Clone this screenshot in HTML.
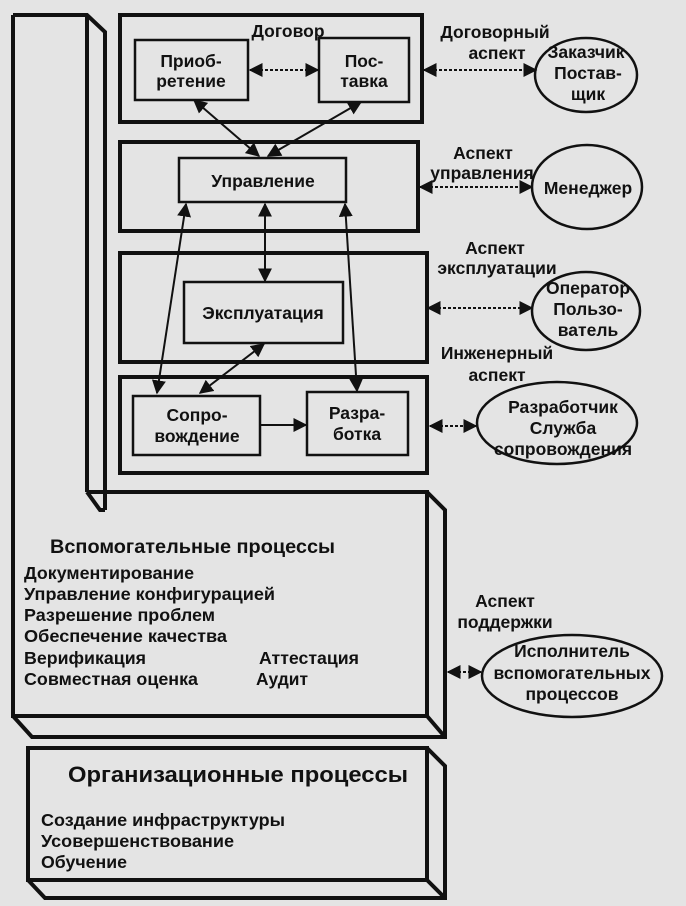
<!DOCTYPE html>
<html><head><meta charset="utf-8"><style>
html,body{margin:0;padding:0;background:#e4e4e4;}
svg{display:block;}
text{font-family:"Liberation Sans","DejaVu Sans",sans-serif;font-weight:bold;fill:#111;}
</style></head><body>
<svg width="686" height="906" viewBox="0 0 686 906" xmlns="http://www.w3.org/2000/svg">
<defs>
<marker id="a" viewBox="0 0 10 10" refX="9" refY="5" markerWidth="7" markerHeight="7" orient="auto-start-reverse"><path d="M0,0L10,5L0,10z" fill="#111"/></marker>
</defs>
<rect width="686" height="906" fill="#e4e4e4"/>
<g fill="none" stroke="#111" stroke-width="4">
<path d="M13,15 L87,15 L105,32 L105,510"/>
<path d="M87,15 L87,492"/>
<path d="M13,15 L13,716 L427,716 L427,492 L87,492"/>
<path d="M87,492 L100,510 L105,510"/>
<path d="M427,492 L445,510 L445,737 L32,737 L13,716"/>
<path d="M427,716 L445,737"/>
<rect x="28" y="748" width="399" height="132"/>
<path d="M427,748 L445,766 L445,898 L45,898 L28,880 M427,880 L445,898"/>
<rect x="120" y="15" width="302" height="107"/>
<rect x="120" y="142" width="298" height="89"/>
<rect x="120" y="253" width="307" height="109"/>
<rect x="120" y="377" width="307" height="96"/>
</g>
<g fill="none" stroke="#111" stroke-width="2.5">
<rect x="135" y="40" width="113" height="60"/>
<rect x="319" y="38" width="90" height="64"/>
<rect x="179" y="158" width="167" height="44"/>
<rect x="184" y="282" width="159" height="61"/>
<rect x="133" y="396" width="127" height="59"/>
<rect x="307" y="392" width="101" height="63"/>
<ellipse cx="586" cy="75" rx="51" ry="37"/>
<ellipse cx="587" cy="187" rx="55" ry="42"/>
<ellipse cx="586" cy="311" rx="54" ry="39"/>
<ellipse cx="557" cy="423" rx="80" ry="41"/>
<ellipse cx="572" cy="676" rx="90" ry="41"/>
</g>
<g stroke="#111" stroke-width="2" fill="none" marker-start="url(#a)" marker-end="url(#a)">
<line x1="194" y1="100" x2="259" y2="156"/>
<line x1="361" y1="102" x2="268" y2="156"/>
<line x1="186" y1="204" x2="157" y2="393"/>
<line x1="265" y1="204" x2="265" y2="281"/>
<line x1="345" y1="204" x2="357" y2="391"/>
<line x1="264" y1="344" x2="200" y2="393"/>
</g>
<line x1="260" y1="425" x2="306" y2="425" stroke="#111" stroke-width="2" marker-end="url(#a)"/>
<g stroke="#111" stroke-width="2" stroke-dasharray="3,2" fill="none" marker-start="url(#a)" marker-end="url(#a)">
<line x1="250" y1="70" x2="318" y2="70"/>
<line x1="424" y1="70" x2="536" y2="70"/>
<line x1="420" y1="187" x2="532" y2="187"/>
<line x1="428" y1="308" x2="532" y2="308"/>
<line x1="430" y1="426" x2="476" y2="426"/>
<line x1="448" y1="672" x2="481" y2="672"/>
</g>
<g font-size="17.5" text-anchor="middle">
<text x="288" y="37">Договор</text>
<text x="191" y="67">Приоб-</text><text x="191" y="87">ретение</text>
<text x="364" y="67">Пос-</text><text x="364" y="87">тавка</text>
<text x="263" y="187">Управление</text>
<text x="263" y="319">Эксплуатация</text>
<text x="197" y="421">Сопро-</text><text x="197" y="442">вождение</text>
<text x="357" y="419">Разра-</text><text x="357" y="440">ботка</text>
<text x="495" y="38">Договорный</text><text x="497" y="59">аспект</text>
<text x="586" y="58">Заказчик</text><text x="588" y="79">Постав-</text><text x="588" y="100">щик</text>
<text x="483" y="159">Аспект</text><text x="482" y="179">управления</text>
<text x="588" y="194">Менеджер</text>
<text x="495" y="254">Аспект</text><text x="497" y="274">эксплуатации</text>
<text x="588" y="294">Оператор</text><text x="588" y="315">Пользо-</text><text x="588" y="336">ватель</text>
<text x="497" y="359">Инженерный</text><text x="497" y="381">аспект</text>
<text x="563" y="413">Разработчик</text><text x="563" y="434">Служба</text><text x="563" y="455">сопровождения</text>
<text x="505" y="607">Аспект</text><text x="505" y="628">поддержки</text>
<text x="572" y="657">Исполнитель</text><text x="572" y="679">вспомогательных</text><text x="572" y="700">процессов</text>
</g>
<g font-size="17.5">
<text x="50" y="553" font-size="19.5" textLength="285" lengthAdjust="spacingAndGlyphs">Вспомогательные процессы</text>
<text x="24" y="579" textLength="170" lengthAdjust="spacingAndGlyphs">Документирование</text>
<text x="24" y="600" textLength="251" lengthAdjust="spacingAndGlyphs">Управление конфигурацией</text>
<text x="24" y="621" textLength="191" lengthAdjust="spacingAndGlyphs">Разрешение проблем</text>
<text x="24" y="642" textLength="203" lengthAdjust="spacingAndGlyphs">Обеспечение качества</text>
<text x="24" y="664" textLength="122" lengthAdjust="spacingAndGlyphs">Верификация</text>
<text x="24" y="685" textLength="174" lengthAdjust="spacingAndGlyphs">Совместная оценка</text>
<text x="259" y="664" textLength="100" lengthAdjust="spacingAndGlyphs">Аттестация</text>
<text x="256" y="685" textLength="52" lengthAdjust="spacingAndGlyphs">Аудит</text>
<text x="68" y="782" font-size="22.5" textLength="340" lengthAdjust="spacingAndGlyphs">Организационные процессы</text>
<text x="41" y="826" textLength="244" lengthAdjust="spacingAndGlyphs">Создание инфраструктуры</text>
<text x="41" y="847" textLength="193" lengthAdjust="spacingAndGlyphs">Усовершенствование</text>
<text x="41" y="868" textLength="86" lengthAdjust="spacingAndGlyphs">Обучение</text>
</g>
</svg>
</body></html>
